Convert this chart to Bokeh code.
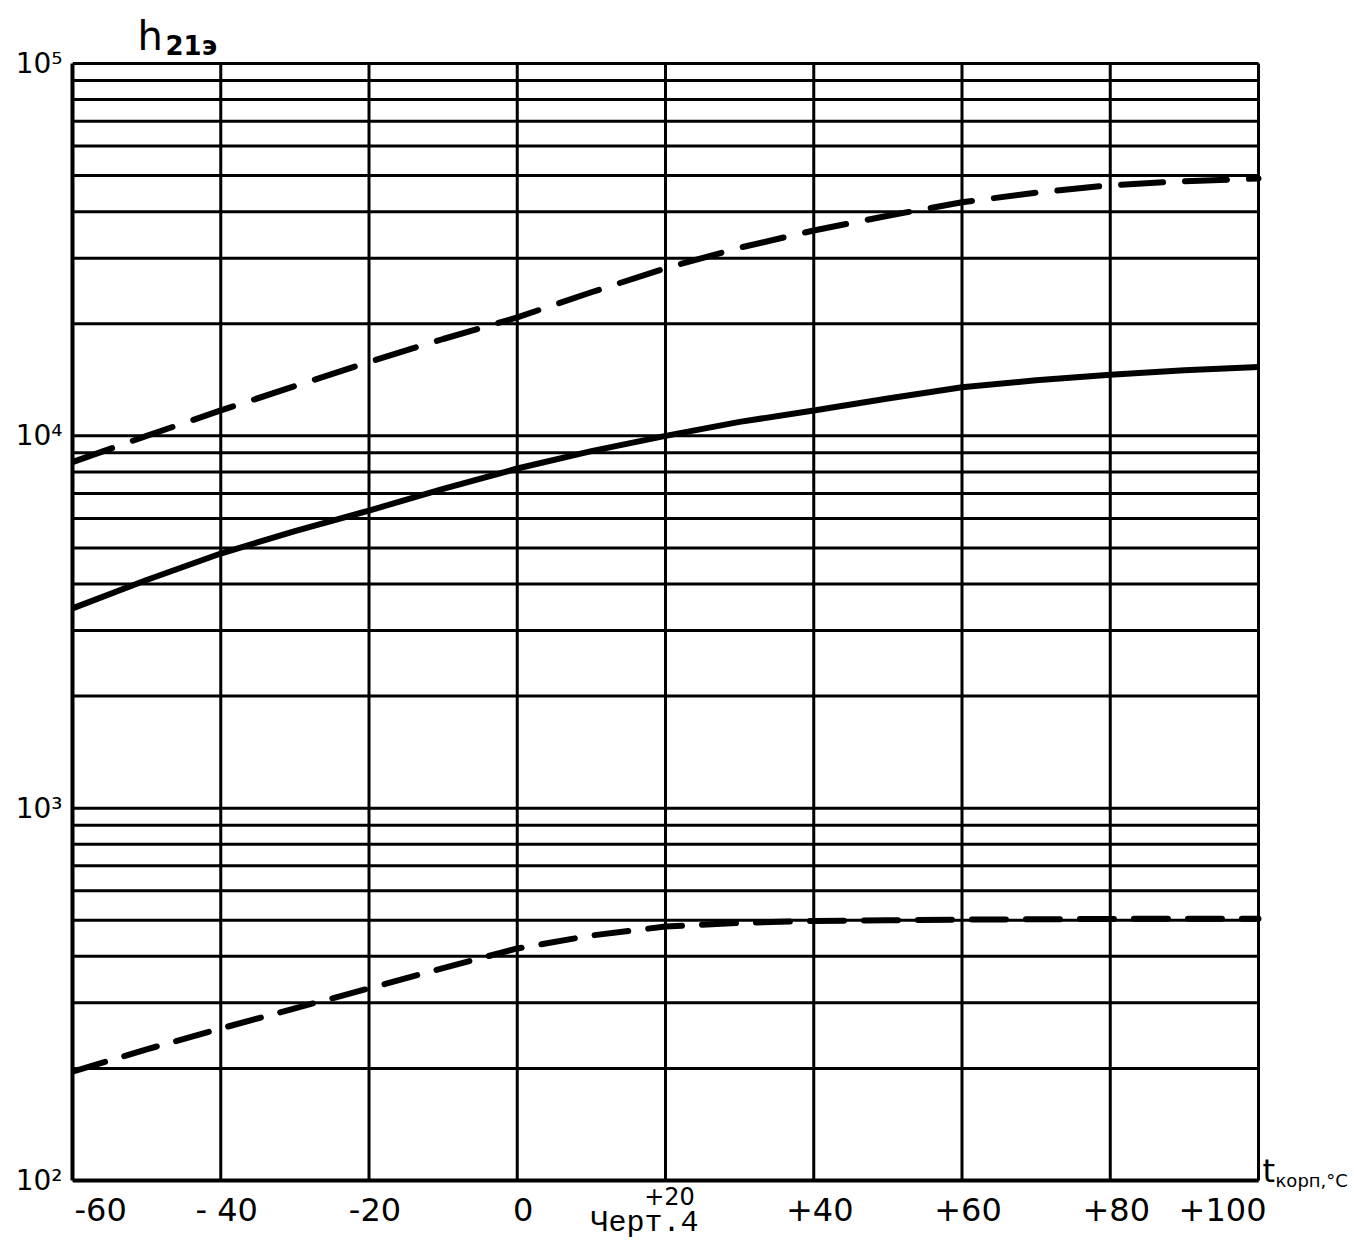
from bokeh.plotting import figure
from bokeh.models import Range1d, FixedTicker, Label
from bokeh.core.properties import value
from bokeh.embed import file_html
from bokeh.resources import INLINE

# ---- data ----
temps = [-60, -50, -40, -30, -20, -10, 0, 10, 20, 30, 40, 50, 60, 70, 80, 90, 100]
h_upper = [8500, 10000, 11700, 13600, 15800, 18200, 20800, 24300, 28200,
           32000, 35600, 39000, 42400, 45000, 47100, 48300, 49100]
h_mid = [3440, 4100, 4830, 5550, 6300, 7200, 8170, 9100, 10000,
         10900, 11700, 12600, 13500, 14100, 14600, 15000, 15300]
h_lower = [196, 225, 256, 290, 328, 372, 420, 455, 481,
           492, 498, 500, 502, 503, 504, 505, 505]

x_ticks = [-60, -40, -20, 0, 20, 40, 60, 80, 100]
x_tick_labels = ["-60", "- 40", "-20", "0", "+20", "+40", "+60", "+80", "+100"]
y_ticks = [100, 1000, 10000, 100000]
y_tick_labels = ["10²", "10³", "10⁴", "10⁵"]
decades = [2, 3, 4]
mantissas = [1, 2, 3, 4, 5, 6, 7, 8, 9]

X_MIN, X_MAX = -60, 100
Y_MIN, Y_MAX = 100, 100000

# ---- layout constants (pixels) ----
FONT = "DejaVu Sans"
FRAME_LEFT = 72      # frame starts at the -60 column; left border holds the y axis
CHART_W = 1186       # pixels from -60 to +100
CHART_H = 1117       # pixels from 10^2 to 10^5
CHART_TOP = 63       # pixel row of 10^5
FRAME_W = 1354 - FRAME_LEFT
FRAME_H = 1240
TEXT_SHIFT = 10      # measured baseline correction of rendered texts
px_per_unit = CHART_W / (X_MAX - X_MIN)
px_per_dec = CHART_H / 3.0
x_end = X_MIN + FRAME_W / px_per_unit
y_top = 10 ** (5 + CHART_TOP / px_per_dec)
y_bot = 10 ** (2 - (FRAME_H - CHART_TOP - CHART_H) / px_per_dec)

p = figure(frame_width=FRAME_W, frame_height=FRAME_H,
           x_range=Range1d(X_MIN, x_end), y_range=Range1d(y_bot, y_top),
           y_axis_type="log", x_axis_location=None,
           output_backend="svg", toolbar_location=None,
           min_border_left=FRAME_LEFT, min_border_right=0,
           min_border_top=0, min_border_bottom=0,
           background_fill_color="white", border_fill_color="white")
p.outline_line_color = None
p.xgrid.visible = False
p.ygrid.visible = False

# ---- grid of the chart (bounded to the chart area) ----
ygrid_vals = [m * 10 ** e for e in decades for m in mantissas] + [Y_MAX]
p.segment(x0=[X_MIN] * len(ygrid_vals), x1=[X_MAX] * len(ygrid_vals),
          y0=ygrid_vals, y1=ygrid_vals, line_color="black", line_width=3)
p.segment(x0=x_ticks, x1=x_ticks, y0=[Y_MIN] * len(x_ticks),
          y1=[Y_MAX] * len(x_ticks), line_color="black", line_width=3)
# heavier bottom axis line
p.segment(x0=[X_MIN], x1=[X_MAX], y0=[Y_MIN], y1=[Y_MIN],
          line_color="black", line_width=4)

# ---- y axis (real axis, bounded to the chart) ----
ax = p.yaxis[0]
ax.bounds = (Y_MIN, Y_MAX)
ax.ticker = FixedTicker(ticks=y_ticks)
ax.major_label_overrides = dict(zip(y_ticks, y_tick_labels))
ax.axis_line_color = "black"
ax.axis_line_width = 4
ax.major_tick_out = 0
ax.major_tick_in = 0
ax.minor_tick_out = 0
ax.minor_tick_in = 0
ax.major_label_text_font = FONT
ax.major_label_text_font_size = "28px"
ax.major_label_text_color = "black"
ax.major_label_standoff = 10

# ---- curves ----
p.line(temps, h_upper, line_width=6, line_color="black",
       line_dash="42 22", line_cap="round")
p.line(temps, h_mid, line_width=6, line_color="black")
p.line(temps, h_lower, line_width=6, line_color="black",
       line_dash="34 20", line_cap="round")

# ---- x tick labels (drawn at the tick values) ----
def y_at_row(row):
    return 10 ** (5 - (row - TEXT_SHIFT - CHART_TOP) / px_per_dec)

lab_y = y_at_row(1219)
idx_mid = [1, 2, 3, 5, 6, 7]
p.text(x=[x_ticks[i] for i in idx_mid], y=[lab_y] * len(idx_mid),
       text=[x_tick_labels[i] for i in idx_mid], text_font=value(FONT),
       text_font_size="32px", text_align="center", text_baseline="alphabetic",
       x_offset=6, text_color="black")
p.text(x=[x_ticks[0]], y=[lab_y], text=[x_tick_labels[0]], text_font=value(FONT),
       text_font_size="32px", text_align="left", text_baseline="alphabetic",
       x_offset=2, text_color="black")
p.text(x=[x_ticks[-1]], y=[lab_y], text=[x_tick_labels[-1]], text_font=value(FONT),
       text_font_size="32px", text_align="right", text_baseline="alphabetic",
       x_offset=8, text_color="black")
p.text(x=[x_ticks[4]], y=[y_at_row(1205)], text=[x_tick_labels[4]],
       text_font=value(FONT), text_font_size="24px", text_align="center",
       text_baseline="alphabetic", x_offset=4, text_color="black")

# ---- free texts (screen units: from the frame's bottom-left corner) ----
def add_text(px, row, text, size, font=FONT, style="normal"):
    p.add_layout(Label(x=px - FRAME_LEFT, y=FRAME_H - row + TEXT_SHIFT,
                       x_units="screen", y_units="screen", text=text,
                       text_font=font, text_font_size=size,
                       text_font_style=style, text_color="black",
                       text_baseline="alphabetic"))

add_text(137, 45, "h", "40px")
add_text(165, 55, "21э", "26px", style="bold")
add_text(1262, 1180, "t", "32px")
add_text(1275, 1190, "корп,°C", "18px")
add_text(590, 1232, "Черт.4", "30px", font="Liberation Mono")

open("out.html", "w").write(file_html(p, INLINE))
